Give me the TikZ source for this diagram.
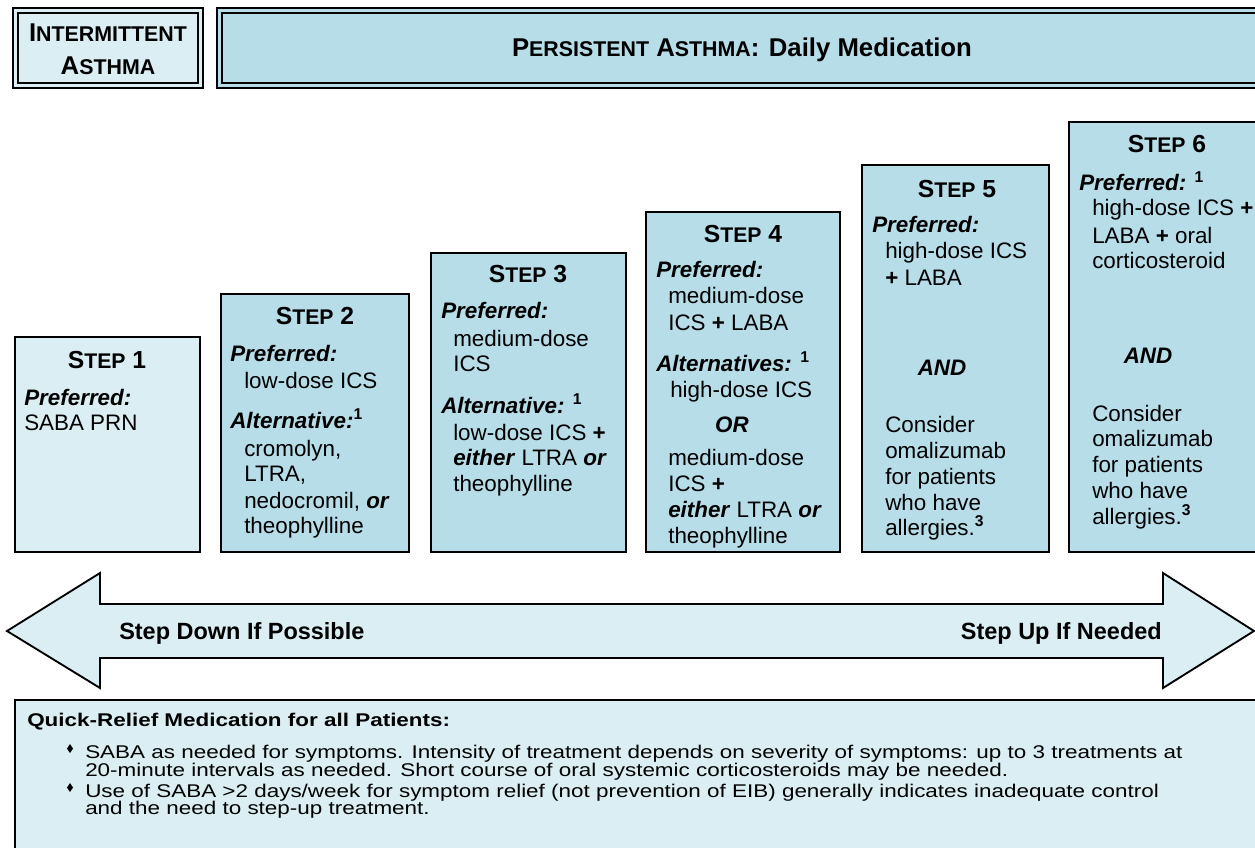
\documentclass[tikz,border=0pt]{standalone}
\usepackage{fontspec}
\setmainfont{Liberation Sans}
\definecolor{lightfill}{RGB}{219,238,243}
\definecolor{darkfill}{RGB}{183,221,232}
\newcommand{\smcap}[1]{\scalebox{0.83}{#1}}
\newcommand{\stcap}[1]{\scalebox{0.86}{#1}}
\newcommand{\wide}[1]{\scalebox{1.22}[1]{#1}}
\newcommand{\fn}[1]{\textsuperscript{\textup{\bfseries #1}}}
\tikzset{
  stepbox/.style={draw,line width=2.2pt},
  body/.style={anchor=base west,inner sep=0pt,font=\fontsize{16.8}{20}\selectfont},
  lab/.style={anchor=base west,inner sep=0pt,font=\fontsize{16.8}{20}\selectfont\bfseries\itshape},
  conj/.style={anchor=base,inner sep=0pt,font=\fontsize{16.8}{20}\selectfont\bfseries\itshape},
  steptitle/.style={anchor=base,inner sep=0pt,font=\fontsize{18.5}{22}\selectfont\bfseries},
  hdr/.style={anchor=base,inner sep=0pt,font=\fontsize{19.3}{23}\selectfont\bfseries},
  arrowtext/.style={inner sep=0pt,font=\fontsize{17.6}{21}\selectfont\bfseries},
  relief/.style={anchor=base west,inner sep=0pt,font=\fontsize{13.8}{16}\selectfont}
}

\begin{document}
\begin{tikzpicture}[x=0.75pt,y=0.75pt,yscale=-1,xscale=1]
\useasboundingbox (0,0) rectangle (1255,848);
\clip (0,0) rectangle (1255,848);

% Headers
\draw [line width=2pt,fill=lightfill] (13,8) rectangle (203,88);
\draw [line width=0.8pt] (18,13) rectangle (198,83);
\node [hdr] (intA) at (108,42) {I\smcap{NTERMITTENT}};
\node [hdr] (intB) at (108,75) {A\smcap{STHMA}};
\draw [line width=2pt,fill=darkfill] (217,8) rectangle (1290,88);
\draw [line width=0.8pt] (222,13) rectangle (1285,83);
\node [hdr] (pers) at (742,57) {P\smcap{ERSISTENT} A\smcap{STHMA}: Daily Medication};

% Step boxes
\draw [stepbox,fill=lightfill] (15,337) rectangle (200,552);
\draw [stepbox,fill=darkfill] (221,294) rectangle (409,552);
\draw [stepbox,fill=darkfill] (431,253) rectangle (626,552);
\draw [stepbox,fill=darkfill] (646,212) rectangle (840,552);
\draw [stepbox,fill=darkfill] (862,165) rectangle (1049,552);
\draw [stepbox,fill=darkfill] (1069,122) rectangle (1290,552);

% Step 1
\node [steptitle] (t1) at (107,368) {S\stcap{TEP} 1};
\node [lab] (p1) at (24,405) {Preferred:};
\node [body] (p1a) at (24,430) {SABA PRN};

% Step 2
\node [steptitle] (t2) at (315,325) {S\stcap{TEP} 2};
\node [lab] (p2) at (230,361) {Preferred:};
\node [body] (p2a) at (244,388) {low-dose ICS};
\node [lab] (a2) at (230,428) {Alternative:\fn{1}};
\node [body] (a2a) at (244,456) {cromolyn,};
\node [body] (a2b) at (244,481) {LTRA,};
\node [body] (a2c) at (244,508) {nedocromil, \textbf{\textit{or}}};
\node [body] (a2d) at (244,533) {theophylline};

% Step 3
\node [steptitle] (t3) at (528,283) {S\stcap{TEP} 3};
\node [lab] (p3) at (441,319) {Preferred:};
\node [body] (p3a) at (453,346) {medium-dose};
\node [body] (p3b) at (453,371) {ICS};
\node [lab] (a3) at (441,413) {Alternative: \fn{1}};
\node [body] (a3a) at (453,440) {low-dose ICS \textbf{+}};
\node [body] (a3b) at (453,465) {\textbf{\textit{either}} LTRA \textbf{\textit{or}}};
\node [body] (a3c) at (453,491) {theophylline};

% Step 4
\node [steptitle] (t4) at (743,243) {S\stcap{TEP} 4};
\node [lab] (p4) at (656,278) {Preferred:};
\node [body] (p4a) at (668,304) {medium-dose};
\node [body] (p4b) at (668,330) {ICS \textbf{+} LABA};
\node [lab] (a4) at (656,371) {Alternatives: \fn{1}};
\node [body] (a4a) at (670,397) {high-dose ICS};
\node [conj] (or4) at (732,432) {OR};
\node [body] (a4b) at (668,465) {medium-dose};
\node [body] (a4c) at (668,491) {ICS \textbf{+}};
\node [body] (a4d) at (668,517) {\textbf{\textit{either}} LTRA \textbf{\textit{or}}};
\node [body] (a4e) at (668,543) {theophylline};

% Step 5
\node [steptitle] (t5) at (957,198) {S\stcap{TEP} 5};
\node [lab] (p5) at (872,233) {Preferred:};
\node [body] (p5a) at (885,259) {high-dose ICS};
\node [body] (p5b) at (885,286) {\textbf{+} LABA};
\node [conj] (and5) at (942,375) {AND};
\node [body] (c5a) at (885,432) {Consider};
\node [body] (c5b) at (885,458) {omalizumab};
\node [body] (c5c) at (885,484) {for patients};
\node [body] (c5d) at (885,510) {who have};
\node [body] (c5e) at (885,535) {allergies.\fn{3}};

% Step 6
\node [steptitle] (t6) at (1167,153) {S\stcap{TEP} 6};
\node [lab] (p6) at (1079,191) {Preferred: \fn{1}};
\node [body] (p6a) at (1092,216) {high-dose ICS \textbf{+}};
\node [body] (p6b) at (1092,244) {LABA \textbf{+} oral};
\node [body] (p6c) at (1092,269) {corticosteroid};
\node [conj] (and6) at (1148,363) {AND};
\node [body] (c6a) at (1092,421) {Consider};
\node [body] (c6b) at (1092,446) {omalizumab};
\node [body] (c6c) at (1092,472) {for patients};
\node [body] (c6d) at (1092,498) {who have};
\node [body] (c6e) at (1092,524) {allergies.\fn{3}};

% Double arrow
\draw [line width=1.4pt,fill=lightfill] (7,631) -- (100,573) -- (100,604) -- (1163,604) -- (1163,573) -- (1254,631) -- (1163,688) -- (1163,658) -- (100,658) -- (100,688) -- cycle;
\node [arrowtext,anchor=base west] (down) at (119,639) {Step Down If Possible};
\node [arrowtext,anchor=base east] (up) at (1162,639) {Step Up If Needed};

% Quick relief box
\draw [line width=2pt,fill=lightfill] (15,700) rectangle (1290,870);
\node [relief] (qr) at (27,726) {\wide{\bfseries Quick-Relief Medication for all Patients:}};
\fill (70,744) -- (73,748.5) -- (70,753) -- (67,748.5) -- cycle;
\fill (70,783) -- (73,787.5) -- (70,792) -- (67,787.5) -- cycle;
\node [relief] (b1a) at (85,758) {\wide{SABA as needed for symptoms. Intensity of treatment depends on severity of symptoms: up to 3 treatments at}};
\node [relief] (b1b) at (85,776) {\wide{20-minute intervals as needed. Short course of oral systemic corticosteroids may be needed.}};
\node [relief] (b2a) at (85,797) {\wide{Use of SABA >2 days/week for symptom relief (not prevention of EIB) generally indicates inadequate control}};
\node [relief] (b2b) at (85,814) {\wide{and the need to step-up treatment.}};

\end{tikzpicture}
\end{document}
